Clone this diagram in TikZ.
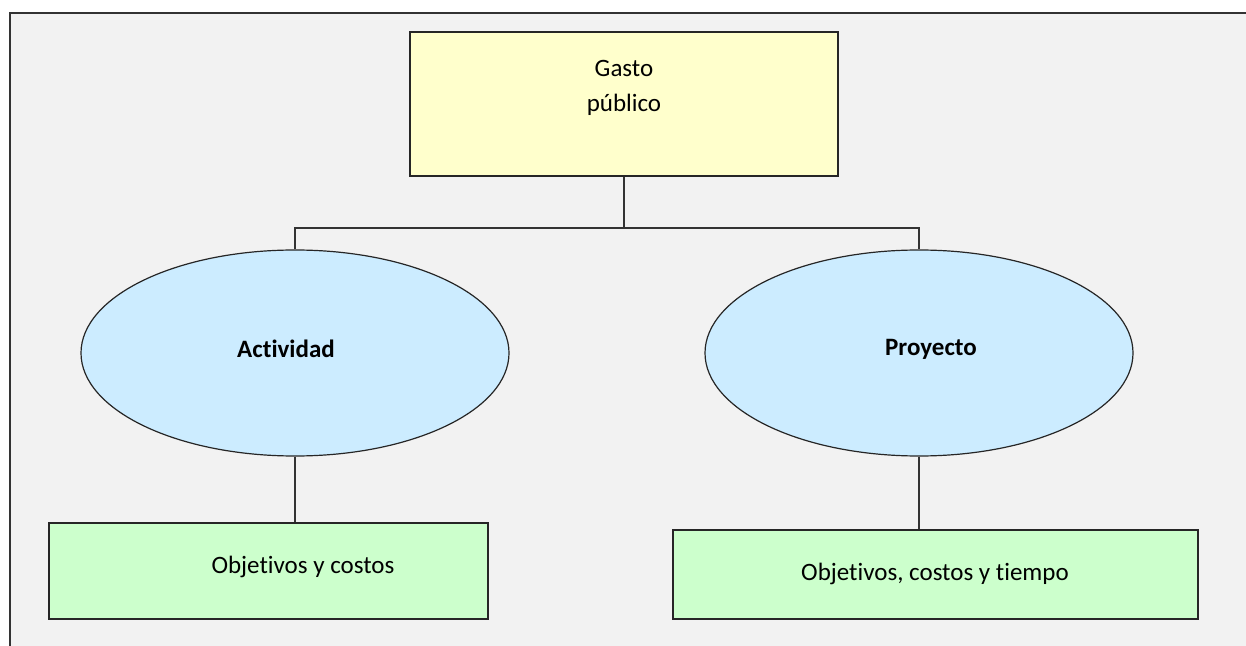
\documentclass[tikz,border=0pt]{standalone}
\usepackage{fontspec}
\setmainfont{Carlito}[Ligatures=NoCommon]
\usetikzlibrary{shapes.geometric,shadows}

\definecolor{fondo}{HTML}{F2F2F2}
\definecolor{amarillo}{HTML}{FFFFCC}
\definecolor{celeste}{HTML}{CCECFF}
\definecolor{verde}{HTML}{CCFFCC}

\tikzset{
  letra/.style={font=\fontsize{12.5}{17.5}\selectfont},
  caja/.style={draw=black!85, line width=0.6pt, rectangle, inner sep=0pt,
    drop shadow={shadow xshift=0.7pt, shadow yshift=-0.7pt, fill=black!55, opacity=1}},
  elipse/.style={draw=black!85, line width=0.6pt, ellipse, fill=celeste, inner sep=0pt,
    minimum width=214pt, minimum height=103pt},
  texto/.style={align=center, inner sep=0pt},
  negrita/.style={texto, font=\fontsize{12.5}{17.5}\selectfont\bfseries},
  linea/.style={draw=black!80, line width=0.6pt}
}

\begin{document}
\begin{tikzpicture}[x=0.5pt,y=-0.5pt,letra]
\useasboundingbox (0,0) rectangle (1246,646);

% marco
\fill[white] (0,0) rectangle (1246,646);
\fill[fondo] (10,13) rectangle (1246,646);
\draw[black!80, line width=1pt] (10,646) -- (10,13) -- (1246,13);

% gasto publico
\node[caja, fill=amarillo, minimum width=214pt, minimum height=72pt] (gasto) at (624,104) {};
\node[texto] (gastotxt) at (624,88) {Gasto\\público};

% actividad / proyecto
\node[elipse] (act) at (295,353) {};
\node[negrita] (acttxt) at (286,349) {Actividad};
\node[elipse] (proy) at (919,353) {};
\node[negrita] (proytxt) at (931,349) {Proyecto};

\coordinate (barra) at (624,228);
\draw[linea] (gasto.south) -- (barra);
\draw[linea] (act.north) |- (barra) -| (proy.north);

% objetivos
\node[caja, fill=verde, minimum width=219.5pt, minimum height=48pt] (obj1) at (268.5,571) {};
\node[texto] (obj1txt) at (303,567) {Objetivos y costos};
\node[caja, fill=verde, minimum width=262.5pt, minimum height=44.5pt] (obj2) at (935.5,574.5) {};
\node[texto] (obj2txt) at (935,574) {Objetivos, costos y tiempo};

\draw[linea] (act.south) -- (act.south |- obj1.north);
\draw[linea] (proy.south) -- (proy.south |- obj2.north);

\end{tikzpicture}
\end{document}
